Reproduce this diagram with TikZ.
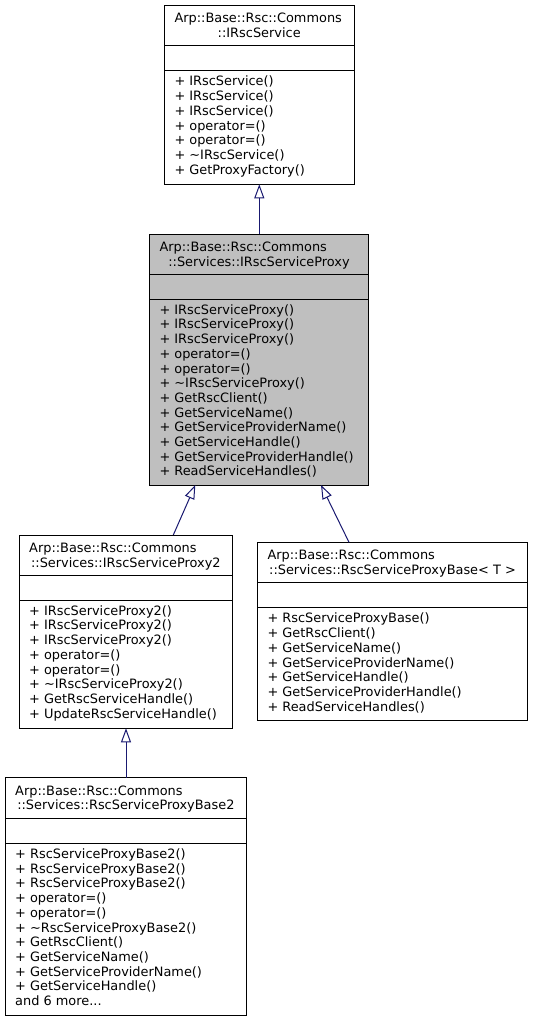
\documentclass[tikz,border=0pt]{standalone}
\usepackage{fontspec}
\setmainfont{DejaVu Sans}
\usetikzlibrary{arrows.meta,calc}
\definecolor{edgeblue}{HTML}{191970}
\definecolor{selgray}{HTML}{BFBFBF}

\tikzset{
  cls/.style={draw=black, line width=1pt, inner sep=0pt, outer sep=0pt, anchor=north west},
  ttl/.style={inner sep=0pt, font=\fontsize{12.9}{14.7}\selectfont},
  mth/.style={anchor=north west, align=left, inner sep=0pt, font=\fontsize{12.9}{14.7}\selectfont},
  inh/.style={draw=edgeblue, line width=1pt, -{Triangle[open, length=14pt, width=10pt]}},
}

\begin{document}
\begin{tikzpicture}[x=1pt,y=-1pt]
  \useasboundingbox (0,0) rectangle (533,1021);

  % IRscService
  \node[cls, minimum width=189.7pt, minimum height=179pt] (svc) at (164.3,5.3) {};
  \draw[line width=1pt] (164.3,45.7) -- (354,45.7);
  \draw[line width=1pt] (164.3,70.7) -- (354,70.7);
  \node[ttl, anchor=base west] (svcpath) at (174.3,22.7) {Arp::Base::Rsc::Commons};
  \node[ttl, anchor=base] (svcname) at (259.2,37.4) {::IRscService};
  \node[mth] (svcops) at (174.3,75.9) {+ IRscService()\\+ IRscService()\\+ IRscService()\\+ operator=()\\+ operator=()\\+ \textasciitilde IRscService()\\+ GetProxyFactory()};

  % IRscServiceProxy
  \node[cls, fill=selgray, minimum width=219.4pt, minimum height=250.7pt] (proxy) at (149.3,234.3) {};
  \draw[line width=1pt] (149.3,274) -- (368.7,274);
  \draw[line width=1pt] (149.3,299) -- (368.7,299);
  \node[ttl, anchor=base west] (proxypath) at (159.3,251.7) {Arp::Base::Rsc::Commons};
  \node[ttl, anchor=base] (proxyname) at (259,266.4) {::Services::IRscServiceProxy};
  \node[mth] (proxyops) at (159.3,304.2) {+ IRscServiceProxy()\\+ IRscServiceProxy()\\+ IRscServiceProxy()\\+ operator=()\\+ operator=()\\+ \textasciitilde IRscServiceProxy()\\+ GetRscClient()\\+ GetServiceName()\\+ GetServiceProviderName()\\+ GetServiceHandle()\\+ GetServiceProviderHandle()\\+ ReadServiceHandles()};

  % IRscServiceProxy2
  \node[cls, minimum width=213.7pt, minimum height=193.3pt] (proxytwo) at (19,535) {};
  \draw[line width=1pt] (19,575) -- (232.7,575);
  \draw[line width=1pt] (19,600) -- (232.7,600);
  \node[ttl, anchor=base west] (proxytwopath) at (29,552.4) {Arp::Base::Rsc::Commons};
  \node[ttl, anchor=base] (proxytwoname) at (125.85,567.1) {::Services::IRscServiceProxy2};
  \node[mth] (proxytwoops) at (29,605.2) {+ IRscServiceProxy2()\\+ IRscServiceProxy2()\\+ IRscServiceProxy2()\\+ operator=()\\+ operator=()\\+ \textasciitilde IRscServiceProxy2()\\+ GetRscServiceHandle()\\+ UpdateRscServiceHandle()};

  % RscServiceProxyBase< T >
  \node[cls, minimum width=270.4pt, minimum height=178.4pt] (proxybase) at (257.3,542.3) {};
  \draw[line width=1pt] (257.3,582.3) -- (527.7,582.3);
  \draw[line width=1pt] (257.3,607.7) -- (527.7,607.7);
  \node[ttl, anchor=base west] (proxybasepath) at (267.3,559.7) {Arp::Base::Rsc::Commons};
  \node[ttl, anchor=base] (proxybasename) at (392.5,574.4) {::Services::RscServiceProxyBase< T >};
  \node[mth] (proxybaseops) at (267.3,612.9) {+ RscServiceProxyBase()\\+ GetRscClient()\\+ GetServiceName()\\+ GetServiceProviderName()\\+ GetServiceHandle()\\+ GetServiceProviderHandle()\\+ ReadServiceHandles()};

  % RscServiceProxyBase2
  \node[cls, minimum width=241.7pt, minimum height=237.3pt] (proxybasetwo) at (5,777.7) {};
  \draw[line width=1pt] (5,818.3) -- (246.7,818.3);
  \draw[line width=1pt] (5,843.3) -- (246.7,843.3);
  \node[ttl, anchor=base west] (proxybasetwopath) at (15,795.1) {Arp::Base::Rsc::Commons};
  \node[ttl, anchor=base] (proxybasetwoname) at (125.85,809.8) {::Services::RscServiceProxyBase2};
  \node[mth] (proxybasetwoops) at (15,848.5) {+ RscServiceProxyBase2()\\+ RscServiceProxyBase2()\\+ RscServiceProxyBase2()\\+ operator=()\\+ operator=()\\+ \textasciitilde RscServiceProxyBase2()\\+ GetRscClient()\\+ GetServiceName()\\+ GetServiceProviderName()\\+ GetServiceHandle()\\and 6 more...};

  % inheritance
  \draw[inh] ($(proxy.north west)+(110,0)$) -- ($(svc.south west)+(95,0)$);
  \draw[inh] ($(proxytwo.north west)+(154.3,0)$) -- ($(proxy.south west)+(46,0)$);
  \draw[inh] ($(proxybase.north west)+(91.7,0)$) -- ($(proxy.south west)+(171.7,0)$);
  \draw[inh] ($(proxybasetwo.north west)+(121,0)$) -- ($(proxytwo.south west)+(107,0)$);
\end{tikzpicture}
\end{document}
